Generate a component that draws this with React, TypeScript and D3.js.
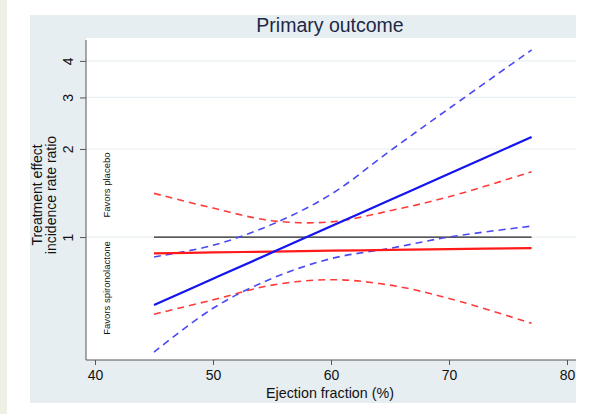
import React, { useEffect, useRef } from "react";
import * as d3 from "d3";

// ejection fraction (%) where the curves were read
const efValues = [45, 50, 55, 60, 65, 70, 77];

// incidence rate ratios
const blueEstimate = [0.586, 0.72, 0.885, 1.089, 1.338, 1.645, 2.197];
const blueUpper = [0.855, 0.937, 1.105, 1.4, 1.97, 2.75, 4.36];
const blueLower = [0.404, 0.571, 0.722, 0.844, 0.915, 1.0, 1.09];

const redEstimate = [0.88, 0.886, 0.892, 0.898, 0.904, 0.91, 0.917];
const redUpper = [1.41, 1.256, 1.137, 1.127, 1.23, 1.373, 1.672];
const redLower = [0.545, 0.61, 0.685, 0.715, 0.685, 0.617, 0.507];

const referenceLine = [1, 1, 1, 1, 1, 1, 1];

const xTicks = [40, 50, 60, 70, 80];
const yTicks = [1, 2, 3, 4];

const FONT = "'Liberation Sans', Arial, Helvetica, sans-serif";

export default function App() {
  const ref = useRef<SVGSVGElement | null>(null);

  useEffect(() => {
    const width = 595;
    const height = 414;
    const plot = { left: 86, right: 576, top: 38, bottom: 360 };

    const svg = d3.select(ref.current);
    svg.selectAll("*").remove();

    svg.append("rect").attr("width", width).attr("height", height).attr("fill", "#ffffff");
    svg.append("rect").attr("width", 7).attr("height", height).attr("fill", "#efefe6");

    // graph region and plot region
    svg.append("rect")
      .attr("x", 30).attr("y", 15)
      .attr("width", 546).attr("height", 388)
      .attr("fill", "#e7eef1");
    svg.append("rect")
      .attr("x", plot.left).attr("y", plot.top)
      .attr("width", plot.right - plot.left).attr("height", plot.bottom - plot.top)
      .attr("fill", "#ffffff");

    const x = d3.scaleLinear().domain([40, 80]).range([95, 567]);
    const y = d3.scaleLog().domain([0.38, 4.79]).range([plot.bottom, plot.top]);

    // grid
    svg.append("g")
      .selectAll("line")
      .data(yTicks)
      .enter()
      .append("line")
      .attr("x1", plot.left).attr("x2", plot.right)
      .attr("y1", d => y(d)).attr("y2", d => y(d))
      .attr("stroke", "#e9f0f3")
      .attr("stroke-width", 1.2);

    // y axis
    const yAxis = svg.append("g")
      .attr("transform", "translate(" + plot.left + ",0)")
      .call(d3.axisLeft(y).tickValues(yTicks).tickFormat(d3.format("d")).tickSize(6).tickPadding(5));
    yAxis.select(".domain").attr("stroke", "#555").attr("d", "M0," + (plot.top + 2) + "V" + plot.bottom);
    yAxis.selectAll(".tick line").attr("stroke", "#555");
    yAxis.selectAll(".tick text")
      .attr("font-family", FONT)
      .attr("font-size", 14)
      .attr("fill", "#111")
      .attr("transform", "rotate(-90)")
      .attr("x", 0)
      .attr("y", -13)
      .attr("dy", "0")
      .attr("text-anchor", "middle");

    // x axis
    const xAxis = svg.append("g")
      .attr("transform", "translate(0," + plot.bottom + ")")
      .call(d3.axisBottom(x).tickValues(xTicks).tickSize(5).tickPadding(5));
    xAxis.select(".domain").attr("stroke", "#555").attr("d", "M" + plot.left + ",0H" + plot.right);
    xAxis.selectAll(".tick line").attr("stroke", "#555");
    xAxis.selectAll(".tick text")
      .attr("font-family", FONT)
      .attr("font-size", 14)
      .attr("fill", "#111");

    const line = d3.line<number>()
      .x((_, i) => x(efValues[i]))
      .y(d => y(d))
      .curve(d3.curveCatmullRom);

    const series = [
      { values: referenceLine, color: "#222222", width: 1.3, dash: null },
      { values: redUpper, color: "#ff3b3b", width: 1.6, dash: "7,5" },
      { values: redLower, color: "#ff3b3b", width: 1.6, dash: "7,5" },
      { values: blueUpper, color: "#4a4af5", width: 1.6, dash: "7,5" },
      { values: blueLower, color: "#4a4af5", width: 1.6, dash: "7,5" },
      { values: redEstimate, color: "#ff1a1a", width: 2.2, dash: null },
      { values: blueEstimate, color: "#1414f0", width: 2.2, dash: null },
    ];

    svg.append("g")
      .selectAll("path")
      .data(series)
      .enter()
      .append("path")
      .attr("d", d => line(d.values))
      .attr("fill", "none")
      .attr("stroke", d => d.color)
      .attr("stroke-width", d => d.width)
      .attr("stroke-dasharray", d => d.dash);

    // side notes
    svg.append("text")
      .text("Favors placebo")
      .attr("transform", "translate(110,185) rotate(-90)")
      .attr("text-anchor", "middle")
      .attr("font-family", FONT)
      .attr("font-size", 9.5)
      .attr("fill", "#111");
    svg.append("text")
      .text("Favors spironolactone")
      .attr("transform", "translate(110,288) rotate(-90)")
      .attr("text-anchor", "middle")
      .attr("font-family", FONT)
      .attr("font-size", 9.5)
      .attr("fill", "#111");

    // titles
    svg.append("text")
      .text("Primary outcome")
      .attr("x", 330)
      .attr("y", 32)
      .attr("text-anchor", "middle")
      .attr("font-family", FONT)
      .attr("font-size", 19.5)
      .attr("fill", "#1c2945");

    svg.append("text")
      .text("Ejection fraction (%)")
      .attr("x", 330)
      .attr("y", 398)
      .attr("text-anchor", "middle")
      .attr("font-family", FONT)
      .attr("font-size", 14.3)
      .attr("fill", "#111");

    const yTitle = svg.append("text")
      .attr("transform", "translate(42,195) rotate(-90)")
      .attr("text-anchor", "middle")
      .attr("font-family", FONT)
      .attr("font-size", 14)
      .attr("fill", "#111");
    yTitle.append("tspan").attr("x", 0).attr("y", 0).text("Treatment effect");
    yTitle.append("tspan").attr("x", 0).attr("y", 14).text("incidence rate ratio");
  }, []);

  return (
    <svg
      ref={ref}
      width={595}
      height={414}
      style={{ position: "absolute", left: 0, top: 0, display: "block" }}
    />
  );
}
